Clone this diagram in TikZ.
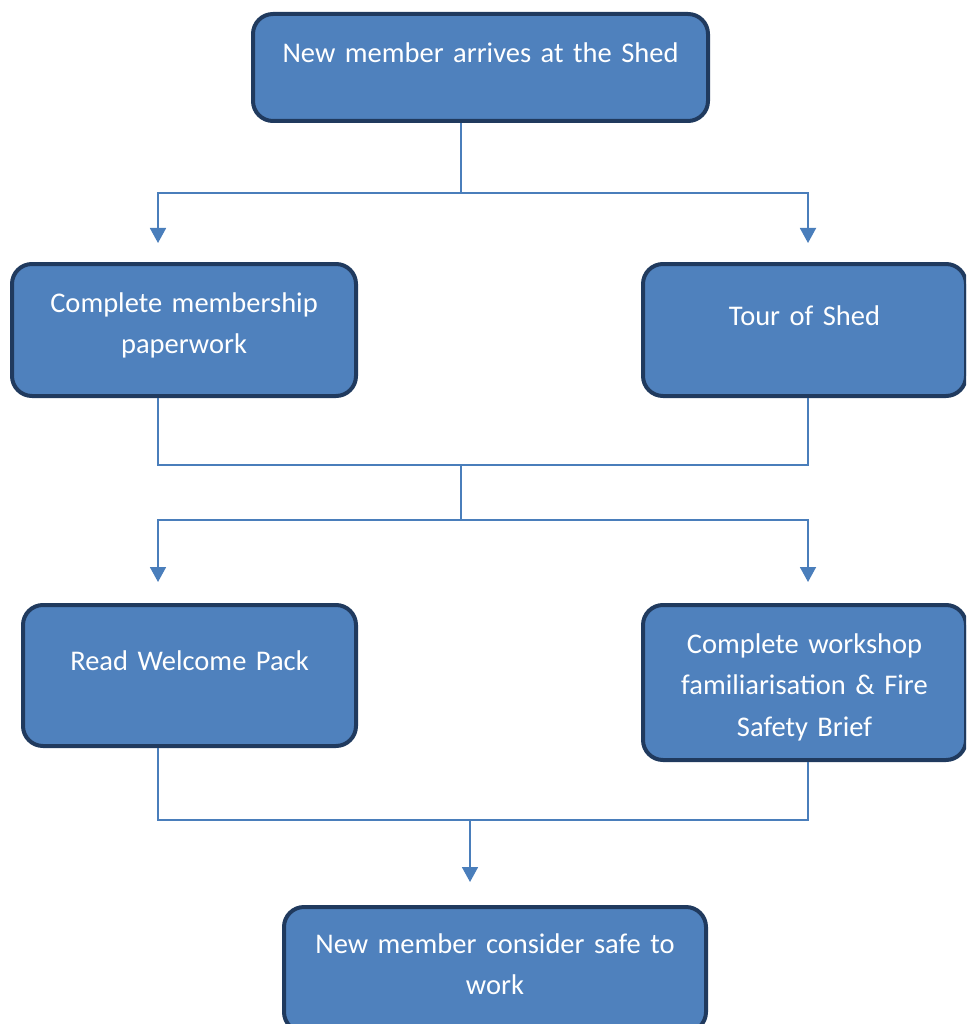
\documentclass[tikz,border=0pt]{standalone}
\usepackage{fontspec}
\setmainfont{Carlito}
\usetikzlibrary{arrows.meta}
\definecolor{boxfill}{HTML}{4F81BD}
\definecolor{boxline}{HTML}{203A5E}
\definecolor{linkblue}{HTML}{4A7EBB}

\begin{document}
\begin{tikzpicture}[x=1pt, y=-1pt, >={Triangle[width=16pt,length=15pt]},
    box/.style={draw=boxline, fill=boxfill, line width=4pt, rounded corners=20pt,
      inner sep=0pt, text=white, align=center, font=\fontsize{28.5}{41.5}\selectfont},
    link/.style={draw=linkblue, line width=1.8pt}]
  \useasboundingbox (0,0) rectangle (966,1024);
  \clip (0,0) rectangle (966,1024);
  % boxes
  \node[box, text width=455pt, text height=49pt, text depth=58pt] (arrive) at (480.5,67.5)
    {New member arrives at the Shed};
  \node[box, text width=344pt, text height=48pt, text depth=84pt] (paper) at (184,330)
    {Complete membership\\ paperwork};
  \node[box, text width=323pt, text height=61pt, text depth=71pt] (tour) at (804.5,330)
    {Tour of Shed};
  \node[box, text width=333pt, text height=65pt, text depth=76pt] (welcome) at (189.5,675.5)
    {Read Welcome Pack};
  \node[box, text width=323pt, text height=48pt, text depth=107pt] (brief) at (804.5,682.5)
    {Complete workshop\\ familiarisation \& Fire\\ Safety Brief};
  \node[box, text width=422pt, text height=46pt, text depth=79pt] (safe) at (495,969.5)
    {New member consider safe to\\ work};
  % joints
  \coordinate (fork1) at (461,193);
  \coordinate (tipA) at (158,243);
  \coordinate (tipB) at (808,243);
  \coordinate (merge1) at (461,465);
  \coordinate (fork2) at (461,520);
  \coordinate (tipC) at (158,582);
  \coordinate (tipD) at (808,582);
  \coordinate (merge2) at (470,820);
  \coordinate (tipE) at (470,882);
  % connectors
  \draw[link] (arrive.south -| fork1) -- (fork1);
  \draw[link,->] (fork1) -| (tipA);
  \draw[link,->] (fork1) -| (tipB);
  \draw[link] (paper.south -| tipA) |- (merge1);
  \draw[link] (tour.south -| tipB) |- (merge1);
  \draw[link] (merge1) -- (fork2);
  \draw[link,->] (fork2) -| (tipC);
  \draw[link,->] (fork2) -| (tipD);
  \draw[link] (welcome.south -| tipC) |- (merge2);
  \draw[link] (brief.south -| tipD) |- (merge2);
  \draw[link,->] (merge2) -- (tipE);
\end{tikzpicture}
\end{document}
